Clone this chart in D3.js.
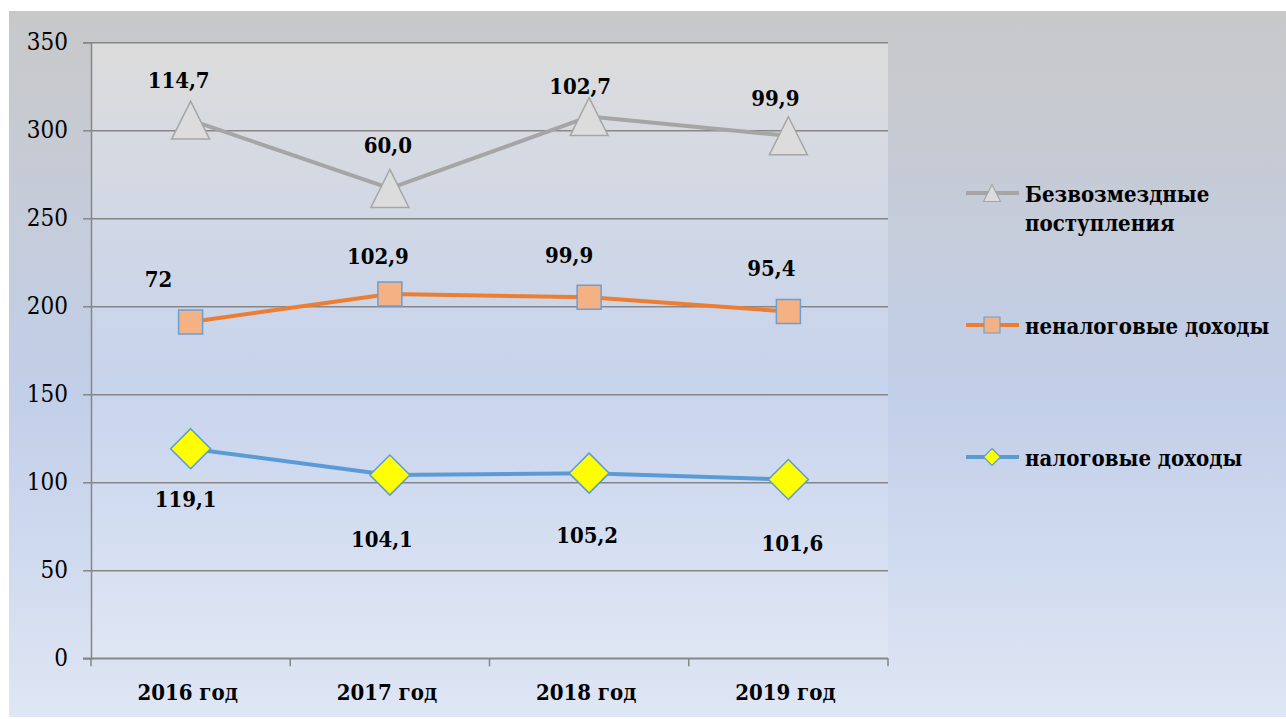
<!DOCTYPE html>
<html>
<head>
<meta charset="utf-8">
<script src="https://cdn.jsdelivr.net/npm/d3@7/dist/d3.min.js"></script>
<style>
  body{margin:0;background:#fff;}
  svg{display:block;}
  svg text{font-family:"DejaVu Serif Condensed","DejaVu Serif",serif;font-stretch:condensed;fill:#000;}
</style>
</head>
<body>
<svg id="chart" width="1286" height="719"></svg>
<script>
// data (stacked lines)
var years=["2016 год","2017 год","2018 год","2019 год"];
var taxIncome=[119.1,104.1,105.2,101.6];
var nonTaxIncome=[72,102.9,99.9,95.4];
var grants=[114.7,60.0,102.7,99.9];
var yTicks=[0,50,100,150,200,250,300,350];
var seriesNames=["Безвозмездные поступления","неналоговые доходы","налоговые доходы"];

// label nudges in px, [dx, dy] relative to point
var grantsNudge=[[-12,-32],[-2,-35],[-9,-23],[-13,-30]];
var nonTaxNudge=[[-32,-35],[-12,-30],[-20,-34],[-17,-36]];
var taxNudge=[[-5,58],[-8,72],[-2,70],[4,72]];

var fmt=function(v){
    if(v===72) return "72";
    return v.toFixed(1).replace(".",",");
}

var svg=d3.select("#chart");
var plot={left:91,right:888,top:42.3,bottom:658.3};

var defs=svg.append("defs");
var bg=defs.append("linearGradient").attr("id","bg").attr("x1",0).attr("y1",0).attr("x2",0).attr("y2",1);
bg.append("stop").attr("offset","0%").attr("stop-color","#c8c8c8");
bg.append("stop").attr("offset","55%").attr("stop-color","#c2cfe9");
bg.append("stop").attr("offset","100%").attr("stop-color","#dfe6f4");
var pg=defs.append("linearGradient").attr("id","pg").attr("x1",0).attr("y1",0).attr("x2",0).attr("y2",1);
pg.append("stop").attr("offset","0%").attr("stop-color","#dcdcdc");
pg.append("stop").attr("offset","55%").attr("stop-color","#c7d4ed");
pg.append("stop").attr("offset","100%").attr("stop-color","#dfe6f4");

svg.append("rect").attr("x",9).attr("y",11).attr("width",1277).attr("height",706).attr("fill","url(#bg)");
svg.append("rect").attr("x",plot.left).attr("y",plot.top)
    .attr("width",plot.right-plot.left).attr("height",plot.bottom-plot.top).attr("fill","url(#pg)");

var xBand=d3.scaleBand().domain(years).range([plot.left,plot.right]).paddingInner(0).paddingOuter(0);
var xScale=function(c){return xBand(c)+xBand.bandwidth()/2;}
var yScale=d3.scaleLinear().domain([0,350]).range([plot.bottom,plot.top]);

// gridlines
svg.append("g").attr("transform","translate("+plot.left+",0)")
    .call(d3.axisLeft(yScale).tickValues(yTicks).tickSize(-(plot.right-plot.left)).tickFormat(""))
    .call(function(g){
        g.select(".domain").remove();
        g.selectAll("line").attr("stroke","#868686").attr("stroke-width",1.5);
    });

// y axis
svg.append("g").attr("transform","translate("+plot.left+",0)")
    .call(d3.axisLeft(yScale).tickValues(yTicks).tickSize(8).tickPadding(15))
    .call(function(g){
        g.attr("font-family",null);
        g.select(".domain").attr("stroke","#868686").attr("stroke-width",1.5);
        g.selectAll("line").attr("stroke","#868686").attr("stroke-width",1.5);
        g.selectAll("text").attr("font-size","24px").attr("fill","#000");
    });

// x axis
var xAxis=svg.append("g");
xAxis.append("line").attr("x1",plot.left-8).attr("x2",plot.right).attr("y1",plot.bottom).attr("y2",plot.bottom)
    .attr("stroke","#868686").attr("stroke-width",1.5);
var edges=years.map(function(c){return xBand(c);}).concat([plot.right]);
xAxis.selectAll(".xt").data(edges).enter().append("line")
    .attr("x1",function(d){return d;}).attr("x2",function(d){return d;})
    .attr("y1",plot.bottom).attr("y2",plot.bottom+8)
    .attr("stroke","#868686").attr("stroke-width",1.5);
xAxis.selectAll(".xl").data(years).enter().append("text")
    .attr("x",function(d){return xScale(d)-3;})
    .attr("y",700)
    .attr("text-anchor","middle")
    .attr("font-size","22px").attr("font-weight","bold")
    .text(function(d){return d;});

// stacking
var stack1=taxIncome;
var stack2=taxIncome.map(function(v,i){return v+nonTaxIncome[i];});
var stack3=stack2.map(function(v,i){return v+grants[i];});

var series=[
    {name:seriesNames[0],vals:grants,tops:stack3,color:"#a5a5a5",marker:"tri",nudge:grantsNudge},
    {name:seriesNames[1],vals:nonTaxIncome,tops:stack2,color:"#ed7d31",marker:"sq",nudge:nonTaxNudge},
    {name:seriesNames[2],vals:taxIncome,tops:stack1,color:"#5b9bd5",marker:"dia",nudge:taxNudge}
];

var markerPath=function(type,s){
    if(type=="tri") return "M0,"+(-s/2)+"L"+(s/2)+","+(s/2)+"L"+(-s/2)+","+(s/2)+"Z";
    if(type=="sq") return "M"+(-s/2)+","+(-s/2)+"h"+s+"v"+s+"h"+(-s)+"Z";
    return "M0,"+(-s/2)+"L"+(s/2)+",0L0,"+(s/2)+"L"+(-s/2)+",0Z";
}
var markerStyle={
    tri:{fill:"#dcdcdc",stroke:"#a6a6a6",size:38,lsize:17},
    sq:{fill:"#f4b183",stroke:"#6a9fd4",size:24,lsize:16},
    dia:{fill:"#ffff00",stroke:"#5b9bd5",size:40,lsize:17}
};

var line=d3.line().x(function(d){return xScale(d.c);}).y(function(d){return yScale(d.v);});

series.forEach(function(s){
    var pts=years.map(function(c,i){return {c:c,v:s.tops[i],raw:s.vals[i],n:s.nudge[i]};});
    svg.append("path").datum(pts).attr("d",line)
        .attr("fill","none").attr("stroke",s.color).attr("stroke-width",4).attr("stroke-linejoin","round");
    var ms=markerStyle[s.marker];
    svg.selectAll(".m"+s.marker).data(pts).enter().append("path")
        .attr("transform",function(d){return "translate("+xScale(d.c)+","+yScale(d.v)+")";})
        .attr("d",markerPath(s.marker,ms.size))
        .attr("fill",ms.fill).attr("stroke",ms.stroke).attr("stroke-width",1.5);
    svg.selectAll(".l"+s.marker).data(pts).enter().append("text")
        .attr("x",function(d){return xScale(d.c)+d.n[0];})
        .attr("y",function(d){return yScale(d.v)+d.n[1];})
        .attr("text-anchor","middle")
        .attr("font-size","22px").attr("font-weight","bold")
        .text(function(d){return fmt(d.raw);});
});

// legend
var legY=[193,325,457];
var legend=svg.append("g");
series.forEach(function(s,i){
    var g=legend.append("g").attr("transform","translate(966,"+legY[i]+")");
    g.append("line").attr("x1",0).attr("x2",53).attr("y1",0).attr("y2",0)
        .attr("stroke",s.color).attr("stroke-width",4);
    var ms=markerStyle[s.marker];
    g.append("path").attr("transform","translate(26,0)").attr("d",markerPath(s.marker,ms.lsize))
        .attr("fill",ms.fill).attr("stroke",ms.stroke).attr("stroke-width",1.2);
    var t=g.append("text").attr("x",59).attr("y",9).attr("font-size","22px").attr("font-weight","bold");
    if(i==0){
        t.append("tspan").attr("x",59).attr("y",9).text("Безвозмездные");
        t.append("tspan").attr("x",59).attr("y",38).text("поступления");
    } else {
        t.text(s.name);
    }
});
</script>
</body>
</html>
